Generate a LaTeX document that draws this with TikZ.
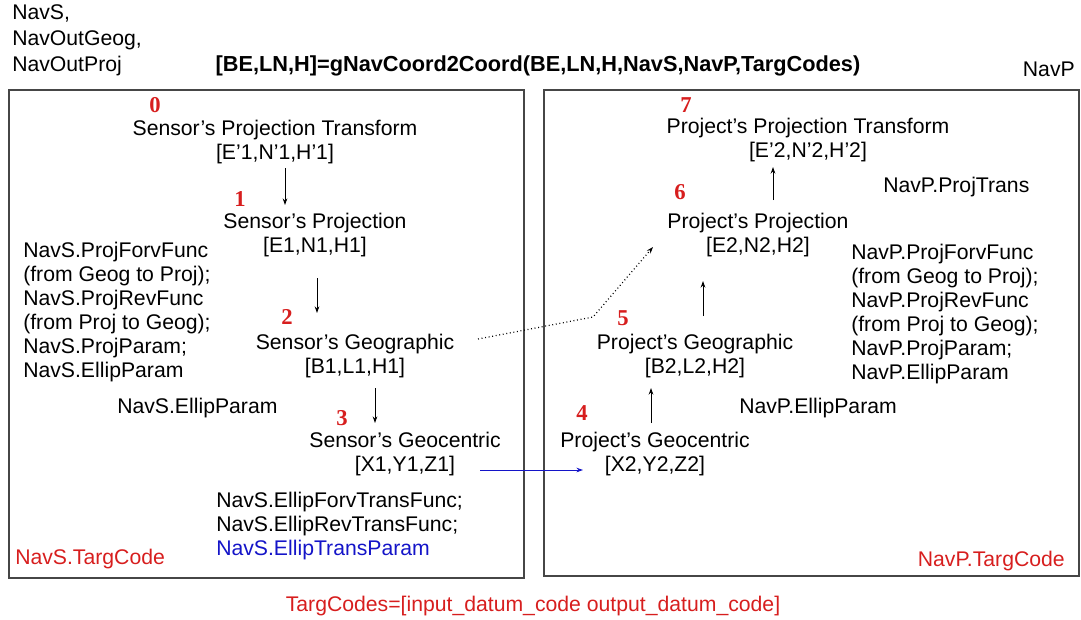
\documentclass[tikz,border=0pt]{standalone}
\usepackage{fontspec}
\setmainfont{Liberation Sans}
\newfontfamily\numfont{Liberation Serif}
\usetikzlibrary{arrows.meta}
\definecolor{redt}{RGB}{215,30,30}
\definecolor{bluet}{RGB}{20,20,200}
\definecolor{boxc}{RGB}{70,70,70}
\begin{document}
\begin{tikzpicture}[x=0.75pt,y=-0.75pt,
  txt/.style={inner sep=0pt,font=\fontsize{15.9}{18}\selectfont},
  cen/.style={txt,align=center},
  lft/.style={txt,align=left,anchor=north west},
  num/.style={inner sep=0pt,text=redt,font=\fontsize{17}{18}\numfont\bfseries},
  frame/.style={draw=boxc,line width=1.1pt},
  arr/.style={-{Stealth[length=5pt,width=3.5pt]},line width=0.7pt}]
\useasboundingbox (0,0) rectangle (1081,619);
% frames
\draw[frame] (9,90) rectangle (524,578);
\draw[frame] (544,90) rectangle (1079,576);
% top labels
\node[lft,font=\fontsize{15.9}{19.5}\selectfont] (navs) at (12,4) {NavS,\\NavOutGeog,\\NavOutProj};
\node[cen,font=\fontsize{16.3}{18}\selectfont\bfseries] (title) at (538,66) {[BE,LN,H]=gNavCoord2Coord(BE,LN,H,NavS,NavP,TargCodes)};
\node[txt,anchor=east] (navp) at (1075,69) {NavP};
% left nodes
\node[num] (n0) at (155,105) {0};
\node[cen] (s0) at (275,142) {Sensor’s Projection Transform\\{[E’1,N’1,H’1]}};
\node[num] (n1) at (240,199) {1};
\node[cen] (s1) at (315,235) {Sensor’s Projection\\{[E1,N1,H1]}};
\node[num] (n2) at (287,317) {2};
\node[cen] (s2) at (355,356) {Sensor’s Geographic\\{[B1,L1,H1]}};
\node[num] (n3) at (342,418) {3};
\node[cen] (s3) at (405,454) {Sensor’s Geocentric\\{[X1,Y1,Z1]}};
\node[lft] (lblock) at (23,242) {NavS.ProjForvFunc\\(from Geog to Proj);\\NavS.ProjRevFunc\\(from Proj to Geog);\\NavS.ProjParam;\\NavS.EllipParam};
\node[txt,anchor=west] (lell) at (117,408) {NavS.EllipParam};
\node[lft] (lbot) at (216,492) {NavS.EllipForvTransFunc;\\NavS.EllipRevTransFunc;\\\textcolor{bluet}{NavS.EllipTransParam}};
\node[txt,anchor=west,text=redt] (ltc) at (15,559) {NavS.TargCode};
% right nodes
\node[num] (n7) at (686,105) {7};
\node[cen] (p7) at (808,140) {Project’s Projection Transform\\{[E’2,N’2,H’2]}};
\node[num] (n6) at (680,192) {6};
\node[cen] (p6) at (758,235) {Project’s Projection\\{[E2,N2,H2]}};
\node[num] (n5) at (623,318) {5};
\node[cen] (p5) at (695,356) {Project’s Geographic\\{[B2,L2,H2]}};
\node[num] (n4) at (582,413) {4};
\node[cen] (p4) at (655,454) {Project’s Geocentric\\{[X2,Y2,Z2]}};
\node[txt,anchor=west] (ptrans) at (883,187) {NavP.ProjTrans};
\node[lft] (rblock) at (851,244) {NavP.ProjForvFunc\\(from Geog to Proj);\\NavP.ProjRevFunc\\(from Proj to Geog);\\NavP.ProjParam;\\NavP.EllipParam};
\node[txt,anchor=west] (rell) at (739,408) {NavP.EllipParam};
\node[txt,anchor=east,text=redt] (rtc) at (1065,561) {NavP.TargCode};
\node[txt,text=redt] (codes) at (533,606) {TargCodes=[input\_datum\_code output\_datum\_code]};
% arrows
\coordinate (a0s) at (285,168); \coordinate (a0e) at (285,205);
\draw[arr] (a0s) -- (a0e);
\coordinate (a1s) at (317,278); \coordinate (a1e) at (317,313);
\draw[arr] (a1s) -- (a1e);
\coordinate (a2s) at (375,388); \coordinate (a2e) at (375,423);
\draw[arr] (a2s) -- (a2e);
\coordinate (b4s) at (651,423); \coordinate (b4e) at (651,388);
\draw[arr] (b4s) -- (b4e);
\coordinate (b5s) at (703,316); \coordinate (b5e) at (703,281);
\draw[arr] (b5s) -- (b5e);
\coordinate (b6s) at (773,200); \coordinate (b6e) at (773,167);
\draw[arr] (b6s) -- (b6e);
\coordinate (bls) at (480,470); \coordinate (ble) at (583,470);
\draw[arr,draw=bluet,fill=bluet] (bls) -- (ble);
\coordinate (ds) at (478,339); \coordinate (dk) at (593,317); \coordinate (de) at (653,247);
\draw[arr,dotted,line width=0.9pt] (ds) -- (dk) -- (de);
\end{tikzpicture}
\end{document}
